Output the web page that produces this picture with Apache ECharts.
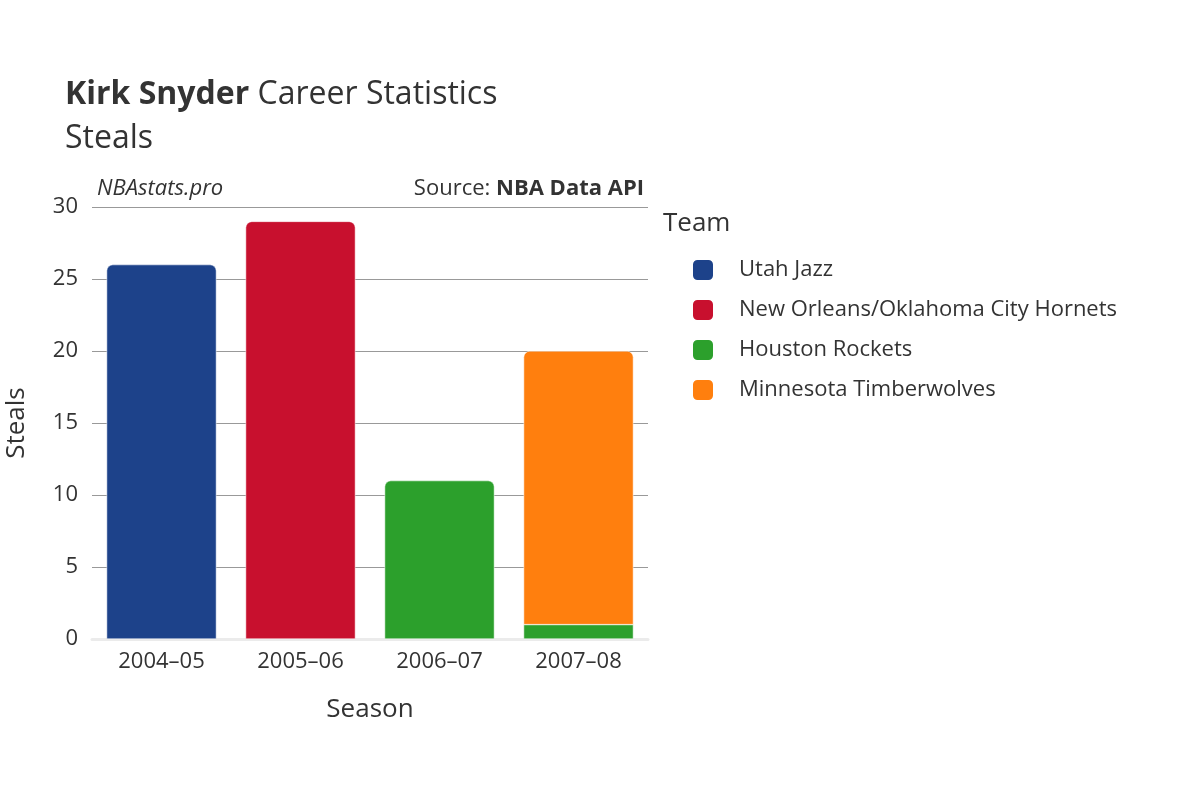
<!DOCTYPE html>
<html><head><meta charset="utf-8">
<script src="https://cdn.jsdelivr.net/npm/echarts@6/dist/echarts.min.js"></script>
<style>body{margin:0}#c{width:1200px;height:800px}</style></head>
<body><div id="c"></div>
<script>
const seasons = ['2004–05','2005–06','2006–07','2007–08'];
const teams = ['Utah Jazz','New Orleans/Oklahoma City Hornets','Houston Rockets','Minnesota Timberwolves'];
const colors = ['#1d428a','#c8102e','#2ca02c','#ff7f0e'];
const utah = [26,null,null,null];
const hornets = [null,29,null,null];
const rockets = [null,null,11,1];
const wolves = [null,null,null,19];
const values = [utah,hornets,rockets,wolves];
const F = 'Open Sans, Noto Sans, sans-serif';
// top segment per season gets rounded corners
const topIdx = seasons.map((s,i)=>{let t=-1;values.forEach((v,k)=>{if(v[i]!=null)t=k;});return t;});
const chart = echarts.init(document.getElementById('c'));
chart.setOption({
  animation:false,
  textStyle:{fontFamily:F},
  title:{text:'{b|Kirk Snyder} Career Statistics\nSteals',left:60,top:68,
    textStyle:{fontSize:32,color:'#333',fontWeight:'normal',lineHeight:44,fontFamily:F,
      rich:{b:{fontSize:32,fontWeight:'bold',color:'#333',fontFamily:F}}}},
  graphic:[
    {type:'text',left:97,top:178,style:{text:'NBAstats.pro',font:'italic 22px '+F,fill:'#333'}},
    {type:'text',right:556,top:178,style:{text:'{a|Source: }{b|NBA Data API}',font:'22px '+F,fill:'#333',
      rich:{a:{fontSize:22,fill:'#333',fontFamily:F},b:{fontSize:22,fontWeight:'bold',fill:'#333',fontFamily:F}}}}
  ],
  legend:{orient:'vertical',left:686,top:253,itemGap:16,itemWidth:22,itemHeight:22,icon:'roundRect',
    data:teams,textStyle:{fontSize:22,color:'#333',padding:[0,0,0,20]}},
  grid:{left:92,right:552,top:207,bottom:161},
  xAxis:{type:'category',data:seasons,name:'Season',nameLocation:'middle',nameGap:58,
    nameTextStyle:{fontSize:26,color:'#333'},
    axisLine:{show:true,lineStyle:{color:'#ebebeb',width:3}},axisTick:{show:false},
    axisLabel:{fontSize:22,color:'#333',margin:12}},
  yAxis:{type:'value',min:0,max:30,interval:5,name:'Steals',nameLocation:'middle',nameGap:62,
    nameTextStyle:{fontSize:26,color:'#333'},
    axisLabel:{fontSize:22,color:'#333',margin:14},
    splitLine:{lineStyle:{color:'#999',width:1}}},
  series:values.map((v,k)=>({
    name:teams[k],type:'bar',stack:'s',barWidth:'79%',
    itemStyle:{color:colors[k],borderColor:'#fff',borderWidth:0.5},
    data:v.map((x,i)=>x==null?null:{value:x,itemStyle:{borderRadius:topIdx[i]===k?[6,6,0,0]:0}})
  }))
});
chart.graphic = null;
</script>
<script>
// legend title
echarts.getInstanceByDom(document.getElementById('c')).setOption({graphic:[
  {type:'text',left:97,top:178,style:{text:'NBAstats.pro',font:'italic 22px Open Sans',fill:'#333'}},
  {type:'text',right:556,top:178,style:{text:'{a|Source: }{b|NBA Data API}',fill:'#333',
      rich:{a:{fontSize:22,fill:'#333',fontFamily:'Open Sans'},b:{fontSize:22,fontWeight:'bold',fill:'#333',fontFamily:'Open Sans'}}}},
  {type:'text',left:663,top:211,style:{text:'Team',font:'26px Open Sans',fill:'#333'}}
]});
</script>
</body></html>
